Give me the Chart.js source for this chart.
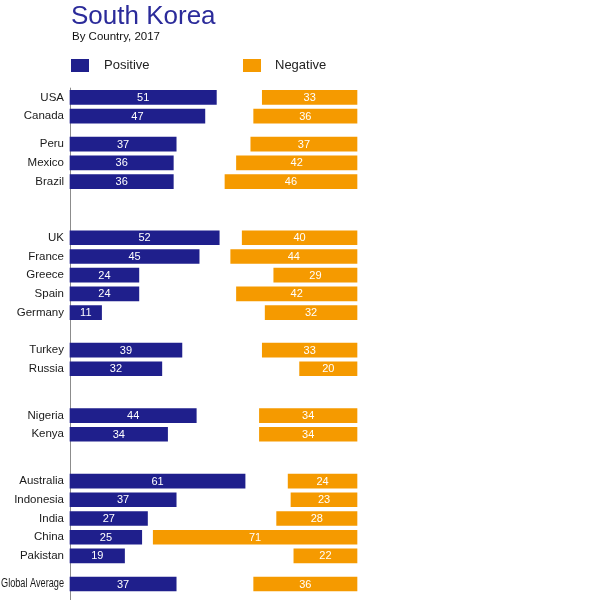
<!DOCTYPE html>
<html>
<head>
<meta charset="utf-8">
<script src="https://cdn.jsdelivr.net/npm/chart.js@4/dist/chart.umd.min.js"></script>
<style>
  body { margin: 0; background: #fff; font-family: "Liberation Sans", Arial, sans-serif; overflow: hidden; }
  #wrap { position: relative; width: 597px; height: 600px; overflow: hidden; }
  #chart { position: absolute; left: 0; top: 0; }
  .txt { position: absolute; white-space: nowrap; }
  #title { left: 71px; top: 2px; font-size: 26px; line-height: 26px; color: #2b2b9a; }
  #sub { left: 72px; top: 30px; font-size: 11.5px; line-height: 12px; color: #111; }
  .sw { position: absolute; top: 59px; width: 18px; height: 13px; }
  .lg { top: 58px; font-size: 13px; line-height: 13px; color: #222; }
</style>
</head>
<body>
<div id="wrap">
  <canvas id="chart" width="597" height="610"></canvas>
  <div class="txt" id="title">South Korea</div>
  <div class="txt" id="sub">By Country, 2017</div>
  <div class="sw" style="left:71px;background:#1f1f8c"></div>
  <div class="txt lg" style="left:104px">Positive</div>
  <div class="sw" style="left:243px;background:#f59a00"></div>
  <div class="txt lg" style="left:275px">Negative</div>
</div>
<script>
const countries = ['USA', 'Canada', 'Peru', 'Mexico', 'Brazil',
  'UK', 'France', 'Greece', 'Spain', 'Germany', 'Turkey', 'Russia',
  'Nigeria', 'Kenya', 'Australia', 'Indonesia', 'India', 'China', 'Pakistan',
  'Global Average']
const positive = [51, 47, 37, 36, 36, 52, 45, 24, 24, 11, 39, 32, 44, 34, 61, 37, 27, 25, 19, 37]
const negative = [33, 36, 37, 42, 46, 40, 44, 29, 42, 32, 33, 20, 34, 34, 24, 23, 28, 71, 22, 36]
// how many countries sit in each block
const groupSizes = [2, 3, 5, 2, 2, 5, 1]

// layout: the y axis runs in half-row slots, rows inside a block are 2 slots apart,
// blocks are separated by these slot distances
const ROW_STEP = 2
const BLOCK_STEP = [3, 6, 4, 5, 5, 3]

const NAVY = '#1f1f8c'
const ORANGE = '#f59a00'

// build slot table from the data
const slotIndex = []
let slot = 0
groupSizes.forEach((n, g) => {
  for (let i = 0; i < n; i++) {
    slotIndex.push(slot)
    if (i < n - 1) slot += ROW_STEP
  }
  if (g < BLOCK_STEP.length) slot += BLOCK_STEP[g]
})
const slotCount = slot + 1
const labels = new Array(slotCount).fill('')
const posBars = new Array(slotCount).fill(null)
const negBars = new Array(slotCount).fill(null)
const posRaw = new Array(slotCount).fill(null)
const negRaw = new Array(slotCount).fill(null)
countries.forEach((c, i) => {
  const s = slotIndex[i]
  labels[s] = c
  posBars[s] = [0, positive[i]]
  negBars[s] = [100 - negative[i], 100]
  posRaw[s] = positive[i]
  negRaw[s] = negative[i]
})

const LONG_LABEL = 'Global Average'

const extras = {
  id: 'extras',
  beforeDatasetsDraw(chart) {
    // vertical axis line
    const ctx = chart.ctx
    const x = Math.round(chart.chartArea.left) + 0.5
    ctx.save()
    ctx.strokeStyle = '#8c8c8c'
    ctx.lineWidth = 1
    ctx.beginPath()
    ctx.moveTo(x, chart.chartArea.top - 5)
    ctx.lineTo(x, chart.height)
    ctx.stroke()
    ctx.restore()
  },
  afterDatasetsDraw(chart) {
    const ctx = chart.ctx
    ctx.save()
    ctx.font = '11px "Liberation Sans", Arial, sans-serif'
    ctx.fillStyle = '#fff'
    ctx.textAlign = 'center'
    ctx.textBaseline = 'middle'
    chart.data.datasets.forEach((ds, i) => {
      chart.getDatasetMeta(i).data.forEach((bar, j) => {
        const v = ds.raw[j]
        if (v == null) return
        ctx.fillText(String(v), (bar.x + bar.base) / 2, bar.y + 0.5)
      })
    })
    // long category label, squeezed like the original
    const y = chart.scales.y
    const idx = labels.indexOf(LONG_LABEL)
    ctx.font = '12px "Liberation Sans", Arial, sans-serif'
    ctx.fillStyle = '#1a1a1a'
    ctx.textAlign = 'right'
    ctx.fillText(LONG_LABEL, chart.chartArea.left - 6, y.getPixelForValue(idx), 63)
    ctx.restore()
  }
}

new Chart(document.getElementById('chart'), {
  type: 'bar',
  data: {
    labels: labels,
    datasets: [
      { label: 'Positive', raw: posRaw, data: posBars, backgroundColor: NAVY, clip: false },
      { label: 'Negative', raw: negRaw, data: negBars, backgroundColor: ORANGE, clip: false }
    ]
  },
  options: {
    indexAxis: 'y',
    responsive: false,
    animation: false,
    grouped: false,
    barThickness: 14,
    layout: { padding: { top: 92.7, bottom: 21.3, left: 0, right: 240 } },
    plugins: {
      legend: { display: false },
      tooltip: { enabled: false }
    },
    scales: {
      x: { min: 0, max: 100, display: false },
      y: {
        offset: true,
        grid: { display: false, drawTicks: false },
        border: { display: false },
        afterFit(scale) { scale.width = 70 },
        ticks: {
          autoSkip: false,
          padding: 6,
          color: (c) => (c.tick && c.tick.label === LONG_LABEL) ? 'rgba(0,0,0,0)' : '#1a1a1a',
          font: { family: '"Liberation Sans", Arial', size: 11.5 }
        }
      }
    }
  },
  plugins: [extras]
})
</script>
</body>
</html>
